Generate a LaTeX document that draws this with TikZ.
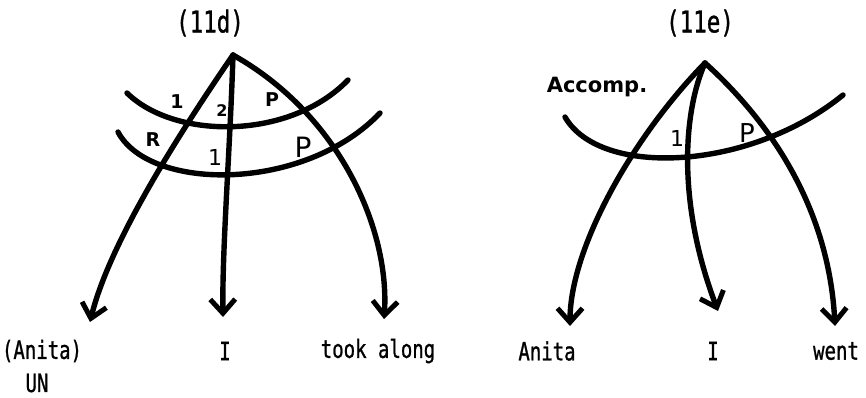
\documentclass[tikz,border=0pt]{standalone}
\usepackage{fontspec}
\usetikzlibrary{arrows.meta}
\newfontfamily\tw[FakeBold=1.2]{DejaVu Sans Mono}
\newfontfamily\hand{DejaVu Sans}
\begin{document}
\begin{tikzpicture}[x=1pt,y=-1pt,
  ink/.style={line width=5.4pt,line cap=round,line join=round},
  arr/.style={ink,-{Straight Barb[length=14pt,width=25pt,line width=5pt]}},
  word/.style={font=\tw\fontsize{25}{25}\selectfont,inner sep=0pt,anchor=center,xscale=0.76},
  ttl/.style={font=\tw\fontsize{30}{30}\selectfont,inner sep=0pt,anchor=center,xscale=0.75},
  lab/.style={font=\hand\bfseries\fontsize{19}{19}\selectfont,inner sep=0pt,anchor=center}]
\useasboundingbox (0,0) rectangle (866,398);
% ---------- (11d)
\node[ttl] (t1) at (210,23) {(11d)};
\coordinate (A) at (233,55);
\coordinate (Al) at (90,322);
\coordinate (Am) at (223,317);
\coordinate (Ar) at (384,319);
\coordinate (u1) at (127,93);
\coordinate (u2) at (348,80);
\coordinate (l1) at (118,132);
\coordinate (l2) at (380,113);
\draw[arr] (A) .. controls (185,125) and (110,240) .. (Al);
\draw[arr] (A) .. controls (230,150) and (222,250) .. (Am);
\draw[arr] (A) .. controls (340,115) and (390,230) .. (Ar);
\draw[ink] (u1) .. controls (175,140) and (290,140) .. (u2);
\draw[ink] (l1) .. controls (150,192) and (305,192) .. (l2);
\node[lab] (n1) at (177,102) {1};
\node[lab,font=\hand\bfseries\fontsize{16}{16}\selectfont] (n2) at (222,111) {2};
\node[lab] (n3) at (272,100) {P};
\node[lab] (n4) at (153,140) {R};
\node[lab,font=\hand\fontsize{22}{22}\selectfont] (n5) at (215,157) {1};
\node[lab,font=\hand\fontsize{28}{28}\selectfont] (n6) at (303,147) {P};
\node[word] (w1) at (42,351) {(Anita)};
\node[word] (w2) at (37,383) {UN};
\node[word] (w3) at (225,351) {I};
\node[word] (w4) at (378,351) {took along};
% ---------- (11e)
\node[ttl] (t2) at (700,23) {(11e)};
\coordinate (B) at (705,63);
\coordinate (Bl) at (570,326);
\coordinate (Bm) at (718,311);
\coordinate (Br) at (835,326);
\coordinate (a1) at (565,117);
\coordinate (a2) at (843,95);
\draw[arr] (B) .. controls (630,140) and (570,250) .. (Bl);
\draw[arr] (B) .. controls (684,110) and (676,200) .. (Bm);
\draw[arr] (B) .. controls (790,140) and (830,230) .. (Br);
\draw[ink] (a1) .. controls (600,178) and (750,171) .. (a2);
\node[lab,font=\hand\bfseries\fontsize{21}{21}\selectfont] (acc) at (597,87) {Accomp.};
\node[lab,font=\hand\fontsize{22}{22}\selectfont] (m1) at (677,138) {1};
\node[lab,font=\hand\fontsize{26}{26}\selectfont] (m2) at (747,133) {P};
\node[word] (w5) at (547,351) {Anita};
\node[word] (w6) at (713,351) {I};
\node[word] (w7) at (836,351) {went};
\end{tikzpicture}
\end{document}
